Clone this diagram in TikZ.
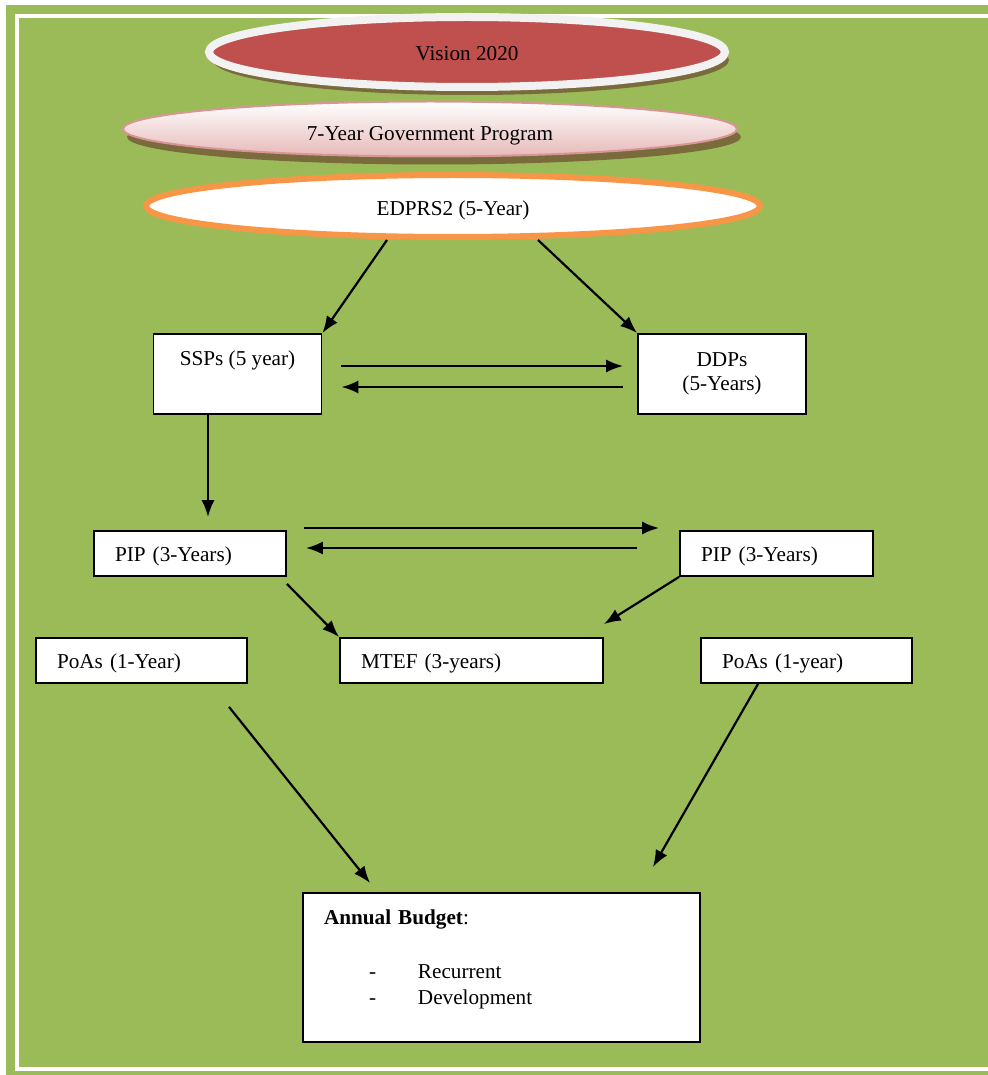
\documentclass[tikz,border=0pt]{standalone}
\usepackage{fontspec}
\setmainfont{Liberation Serif}
\usetikzlibrary{shapes.geometric,shadows,arrows.meta}
\definecolor{bggreen}{HTML}{9BBB59}
\definecolor{visionred}{HTML}{C0504D}
\definecolor{ringgrey}{HTML}{F2F2F2}
\definecolor{progpink}{HTML}{D99594}
\definecolor{progfill}{HTML}{E6B9B8}
\definecolor{edprsorange}{HTML}{F79646}
\definecolor{shadowbrown}{RGB}{122,107,60}
\begin{document}
\begin{tikzpicture}[x=0.5pt, y=-0.5pt, >={Latex[length=8.5pt,width=6.5pt]},
          font=\fontsize{10.6pt}{12pt}\selectfont,
          oval/.style={ellipse, inner sep=0pt},
          ovalshadow/.style={drop shadow={shadow xshift=2pt, shadow yshift=-4pt, fill=shadowbrown, opacity=1}},
          box/.style={draw, fill=white, line width=0.9pt, minimum height=22.5pt, inner xsep=10.5pt, align=left},
          linebox/.style={box, text height=10.5pt, text depth=2.3pt},
          tallbox/.style={box, align=center, minimum width=84pt, minimum height=40pt},
          link/.style={->, line width=1.1pt}]
        \useasboundingbox (0,0) rectangle (988,1075);
        \clip (0,0) rectangle (988,1075);
        \fill[white] (0,0) rectangle (988,1075);
        \fill[bggreen] (6,5) rectangle (988,1075);
        \draw[white, line width=2pt] (17,16) rectangle (1000,1069);
        \node[oval, ovalshadow, fill=visionred, draw=ringgrey, line width=4pt, minimum width=258pt, minimum height=35pt] (vision) at (467,52) {\raisebox{-1pt}[\height][\depth]{Vision 2020}};
        \node[oval, ovalshadow, top color=white, bottom color=progfill, draw=progpink, line width=1pt, minimum width=307pt, minimum height=27.5pt] (govprog) at (430,129) {\raisebox{-3.5pt}[\height][\depth]{7-Year Government Program}};
        \node[oval, fill=white, draw=edprsorange, line width=3pt, minimum width=307pt, minimum height=31pt] (edprs) at (453,206) {\raisebox{-2pt}[\height][\depth]{EDPRS2 (5-Year)}};
        \node[tallbox] (ssp) at (237.5,374) {SSPs (5 year)\\ \strut};
        \node[tallbox] (ddp) at (722,374) {DDPs\\(5-Years)};
        \node[linebox, text width=75pt] (pipl) at (190,553.5) {PIP (3-Years)};
        \node[linebox, text width=75.5pt] (pipr) at (776.5,553.5) {PIP (3-Years)};
        \node[linebox, text width=84.5pt] (poal) at (141.5,660.5) {PoAs (1-Year)};
        \node[linebox, text width=110.5pt] (mtef) at (471.5,660.5) {MTEF (3-years)};
        \node[linebox, text width=84.5pt] (poar) at (806.5,660.5) {PoAs (1-year)};
        \node[box, text width=177.5pt, minimum height=74.5pt] (budget) at (501.5,967.5) {\textbf{Annual Budget}:\\[15pt]\hspace*{22.5pt}\makebox[24.5pt][l]{-}Recurrent\\[1pt]\hspace*{22.5pt}\makebox[24.5pt][l]{-}Development\\[-1.5pt]\mbox{}};
        \draw[link] ([xshift=-33pt]edprs.south) -- (ssp.north east);
        \draw[link] ([xshift=42.5pt]edprs.south) -- (ddp.north west);
        \draw[link] ([xshift=9.5pt,yshift=4pt]ssp.east) -- ([xshift=-7pt,yshift=4pt]ddp.west);
        \draw[link] ([xshift=-7pt,yshift=-6.5pt]ddp.west) -- ([xshift=9.5pt,yshift=-6.5pt]ssp.east);
        \draw[link] ([xshift=-14.75pt]ssp.south) -- ([xshift=-14.75pt,yshift=6.5pt]ssp.south |- pipl.north);
        \draw[link] ([xshift=8.5pt,yshift=12.75pt]pipl.east) -- ([xshift=-10pt,yshift=12.75pt]pipr.west);
        \draw[link] ([xshift=-21pt,yshift=2.75pt]pipr.west) -- ([xshift=9.5pt,yshift=2.75pt]pipl.east);
        \draw[link] ([yshift=-3.5pt]pipl.south east) -- (mtef.north west);
        \draw[link] (pipr.south west) -- ([yshift=6.5pt]mtef.north east);
        \draw[link] ([xshift=43.75pt,yshift=-11.5pt]poal.south) -- ([xshift=34pt,yshift=4.5pt]budget.north west);
        \draw[link] ([xshift=-24.25pt]poar.south) -- ([xshift=-24pt,yshift=12.5pt]budget.north east);
      \end{tikzpicture}
\end{document}
